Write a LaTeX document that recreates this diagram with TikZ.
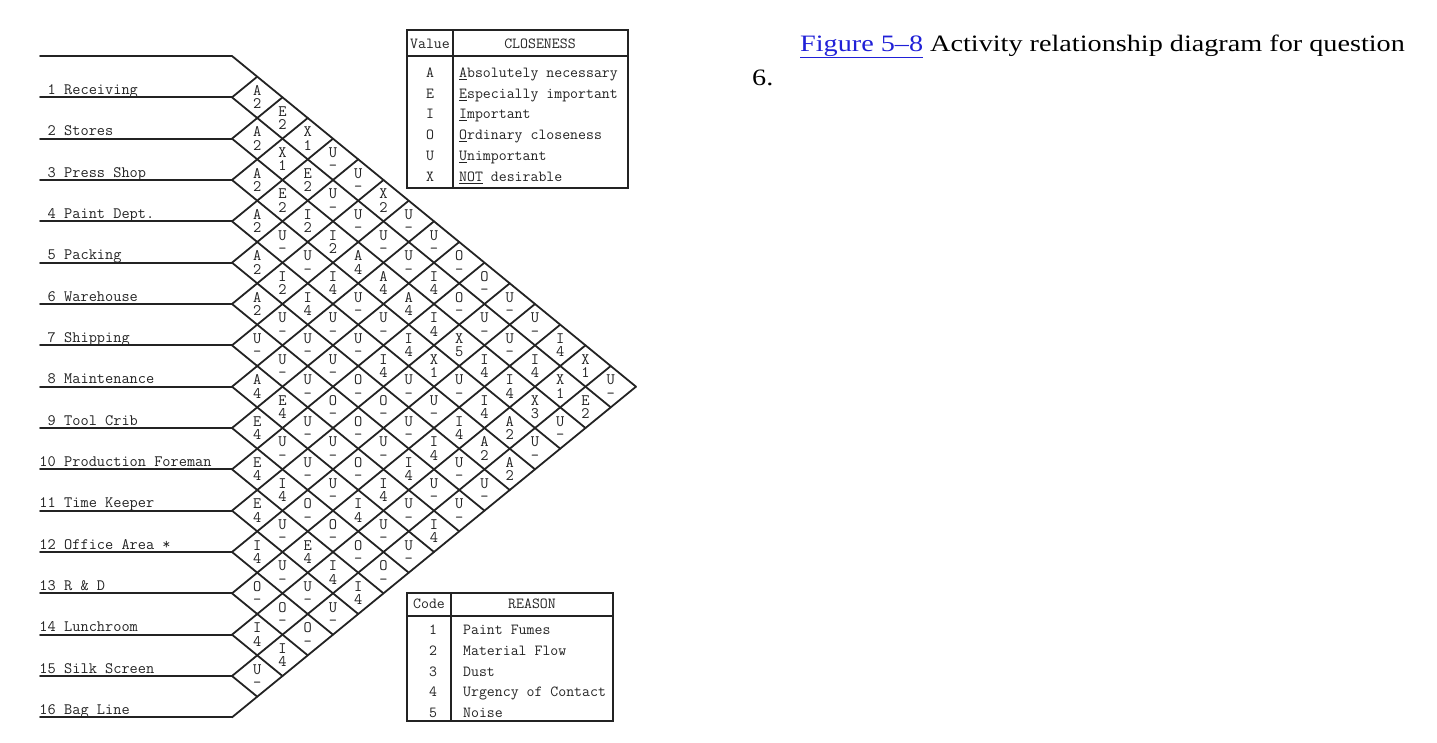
\documentclass[tikz,border=0pt]{standalone}
\usepackage{fontspec}
\newfontfamily\capfont[FakeStretch=1.2]{Liberation Serif}
\definecolor{linkblue}{RGB}{32,32,215}
\definecolor{ink}{RGB}{35,35,35}
\begin{document}
\begin{tikzpicture}[x=1pt,y=-1pt,
  rule/.style={line width=1.8pt,draw=ink,line cap=round,line join=round},
  tbl/.style={line width=1.8pt,draw=ink},
  celltxt/.style={anchor=base,inner sep=0pt,text=ink,font=\fontsize{16}{16}\selectfont\ttfamily},
  lbl/.style={inner sep=0pt,text=ink,font=\fontsize{15.9}{16}\selectfont\ttfamily},
  ttxt/.style={inner sep=0pt,text=ink,font=\fontsize{15.4}{16}\selectfont\ttfamily}]
\useasboundingbox (0,0) rectangle (1437,742);
% grid vertices
\foreach \k in {0,...,16}{
  \pgfmathsetmacro\yk{56+41.333*\k}
  \pgfmathsetmacro\xd{232+(16-\k)*25.25}
  \pgfmathsetmacro\yd{\yk+(16-\k)*20.667}
  \pgfmathsetmacro\xu{232+\k*25.25}
  \pgfmathsetmacro\yu{\yk-\k*20.667}
  \coordinate (S\k) at (40,\yk);
  \coordinate (L\k) at (232,\yk);
  \coordinate (D\k) at (\xd,\yd);
  \coordinate (U\k) at (\xu,\yu);
}
\foreach \k in {0,...,16} \draw[rule] (S\k) -- (L\k);
\foreach \k in {0,...,15} \draw[rule] (L\k) -- (D\k);
\foreach \k in {1,...,16} \draw[rule] (L\k) -- (U\k);
% department labels
\foreach \k/\t in {1/Receiving,2/Stores,3/Press Shop,4/Paint Dept.,5/Packing,6/Warehouse,7/Shipping,8/Maintenance,9/Tool Crib,10/Production Foreman,11/Time Keeper,12/Office Area *,13/R \& D,14/Lunchroom,15/Silk Screen,16/Bag Line}{
  \pgfmathsetmacro\yb{56+41.333*\k-3}
  \node[lbl,anchor=base east] (num\k) at (56,\yb) {\k};
  \node[lbl,anchor=base west] (lab\k) at (64,\yb) {\t};
}
% cells
\foreach \i/\j/\r/\c in {
 1/2/A/2,1/3/E/2,1/4/X/1,1/5/U/-,1/6/U/-,1/7/X/2,1/8/U/-,1/9/U/-,1/10/O/-,1/11/O/-,1/12/U/-,1/13/U/-,1/14/I/4,1/15/X/1,1/16/U/-,
 2/3/A/2,2/4/X/1,2/5/E/2,2/6/U/-,2/7/U/-,2/8/U/-,2/9/U/-,2/10/I/4,2/11/O/-,2/12/U/-,2/13/U/-,2/14/I/4,2/15/X/1,2/16/E/2,
 3/4/A/2,3/5/E/2,3/6/I/2,3/7/I/2,3/8/A/4,3/9/A/4,3/10/A/4,3/11/I/4,3/12/X/5,3/13/I/4,3/14/I/4,3/15/X/3,3/16/U/-,
 4/5/A/2,4/6/U/-,4/7/U/-,4/8/I/4,4/9/U/-,4/10/U/-,4/11/I/4,4/12/X/1,4/13/U/-,4/14/I/4,4/15/A/2,4/16/U/-,
 5/6/A/2,5/7/I/2,5/8/I/4,5/9/U/-,5/10/U/-,5/11/I/4,5/12/U/-,5/13/U/-,5/14/I/4,5/15/A/2,5/16/A/2,
 6/7/A/2,6/8/U/-,6/9/U/-,6/10/U/-,6/11/O/-,6/12/O/-,6/13/U/-,6/14/I/4,6/15/U/-,6/16/U/-,
 7/8/U/-,7/9/U/-,7/10/U/-,7/11/O/-,7/12/O/-,7/13/U/-,7/14/I/4,7/15/U/-,7/16/U/-,
 8/9/A/4,8/10/E/4,8/11/U/-,8/12/U/-,8/13/O/-,8/14/I/4,8/15/U/-,8/16/I/4,
 9/10/E/4,9/11/U/-,9/12/U/-,9/13/U/-,9/14/I/4,9/15/U/-,9/16/U/-,
 10/11/E/4,10/12/I/4,10/13/O/-,10/14/O/-,10/15/O/-,10/16/O/-,
 11/12/E/4,11/13/U/-,11/14/E/4,11/15/I/4,11/16/I/4,
 12/13/I/4,12/14/U/-,12/15/U/-,12/16/U/-,
 13/14/O/-,13/15/O/-,13/16/O/-,
 14/15/I/4,14/16/I/4,
 15/16/U/-}{
  \pgfmathsetmacro\cx{232+(\j-\i)*25.25}
  \pgfmathsetmacro\cy{56+20.667*(\i+\j-1)}
  \node[celltxt] (r\i-\j) at (\cx,\cy-2) {\r};
  \node[celltxt] (n\i-\j) at (\cx,\cy+11.5) {\c};
}
% closeness table
\draw[tbl] (407,30) rectangle (628,188);
\draw[tbl] (407,56) -- (628,56);
\draw[tbl] (453,30) -- (453,188);
\node[ttxt,anchor=base] (hv) at (430,48.5) {Value};
\node[ttxt,anchor=base] (hc) at (540,48.5) {CLOSENESS};
\foreach \n/\v/\d/\y in {1/A/\underline{A}bsolutely necessary/73,2/E/\underline{E}specially important/94,3/I/\underline{I}mportant/114,4/O/\underline{O}rdinary closeness/135,5/U/\underline{U}nimportant/156,6/X/\underline{NOT} desirable/177}{
  \node[ttxt,anchor=base] (v\n) at (430,\y+4.6) {\v};
  \node[ttxt,anchor=base west] (d\n) at (459,\y+4.6) {\d};
}
% reason table
\draw[tbl] (407,593) rectangle (613,721);
\draw[tbl] (407,616) -- (613,616);
\draw[tbl] (451,593) -- (451,721);
\node[ttxt,anchor=base] (hcode) at (429,608.5) {Code};
\node[ttxt,anchor=base] (hreason) at (532,608.5) {REASON};
\foreach \n/\d/\y in {1/Paint Fumes/630,2/Material Flow/651,3/Dust/672,4/Urgency of Contact/692,5/Noise/713}{
  \node[ttxt,anchor=base] (code\n) at (433,\y+4.6) {\n};
  \node[ttxt,anchor=base west] (reason\n) at (463,\y+4.6) {\d};
}
% caption
\node[anchor=base west,inner sep=0pt,font=\capfont\fontsize{23.5}{28}\selectfont] (cap1) at (800,51) {\textcolor{linkblue}{\underline{Figure 5–8}} Activity relationship diagram for question};
\node[anchor=base west,inner sep=0pt,font=\capfont\fontsize{23.5}{28}\selectfont] (cap2) at (752,85) {6.};
\end{tikzpicture}
\end{document}
